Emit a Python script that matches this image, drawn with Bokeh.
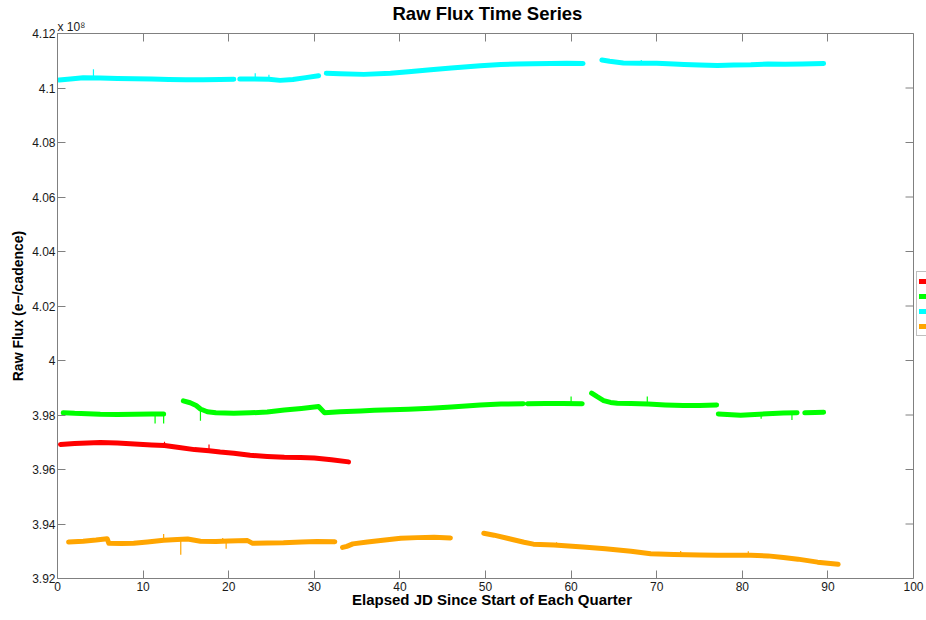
import math
from bokeh.plotting import figure
from bokeh.models import (LinearAxis, Range1d, FixedTicker, Legend, LegendItem,
                          Title, Span, CustomJSTickFormatter)
from bokeh.embed import file_html
from bokeh.resources import INLINE

# ---------------- data (flux in units of 1e8 e-/cadence) ----------------
series_names = ["Q1", "Q2", "Q3", "Q4"]
series_colors = ["#ff0000", "#00ff00", "#00ffff", "#ffa500"]

q1_x = [[0.35, 2, 3.5, 5, 7, 9, 11, 12.5, 14, 16, 17.7, 19, 20.6, 22.5, 24.5, 26.5, 28.4, 30, 32, 34]]
q1_y = [[3.9692, 3.9695, 3.9697, 3.9699, 3.9697, 3.9694, 3.9690, 3.9688, 3.9682, 3.9673,
         3.9669, 3.9664, 3.9660, 3.9652, 3.9648, 3.9645, 3.9644, 3.9642, 3.9636, 3.9628]]
q1_spike_x = [12.5, 17.7]
q1_spike_base = [3.9688, 3.9672]
q1_spike_tip = [3.9702, 3.9692]

q2_x = [[0.67, 2, 3.5, 5, 7, 9, 11, 12.4],
        [14.7, 15.5, 16.2, 16.7, 17.5, 18.5, 20.6, 22.5, 24.5, 26.5, 28.5, 30.5, 31.2, 33,
         35.4, 37, 39, 41, 43.6, 46, 49.4, 51.8, 54.4],
        [54.9, 57, 59, 61.3],
        [62.4, 63, 63.8, 64.6, 65.4, 67, 69, 71, 73.1, 75, 77],
        [77.2, 79.8, 82, 84.8, 86.4],
        [87.3, 88.5, 89.5]]
q2_y = [[3.9808, 3.9806, 3.9805, 3.9803, 3.9802, 3.9803, 3.9804, 3.9804],
        [3.9852, 3.9845, 3.9835, 3.9822, 3.9812, 3.9808, 3.9806, 3.9808, 3.9811, 3.9818,
         3.9824, 3.9831, 3.9808, 3.9812, 3.9815, 3.9817, 3.9819, 3.9821, 3.9825, 3.9829,
         3.9837, 3.9840, 3.9841],
        [3.9841, 3.9842, 3.9842, 3.9841],
        [3.9880, 3.9868, 3.9853, 3.9846, 3.9843, 3.9842, 3.9840, 3.9837, 3.9835, 3.9835, 3.9837],
        [3.9804, 3.9799, 3.9803, 3.9807, 3.9808],
        [3.9808, 3.9809, 3.9810]]
q2_spike_x = [11.4, 12.4, 16.7, 60.0, 68.9, 82.2, 85.8]
q2_spike_base = [3.9804, 3.9804, 3.9818, 3.9842, 3.9840, 3.9803, 3.9808]
q2_spike_tip = [3.9769, 3.9769, 3.9779, 3.9868, 3.9868, 3.9786, 3.9782]

q3_x = [[0.2, 1.5, 3, 5, 7, 9, 11, 13, 15, 17, 19, 20.6],
        [21.3, 23, 24.7, 26, 27.5, 29, 30.5],
        [31.4, 33, 35.8, 38.9, 41, 43.6, 46, 49.4, 51.8, 53.7, 55.5, 57.6, 59.5, 61.4],
        [63.6, 64.5, 66.1, 68, 70, 72, 73.2, 75, 77.1, 79, 81, 83, 85, 87, 89.5]]
q3_y = [[4.1029, 4.1033, 4.1038, 4.1037, 4.1035, 4.1034, 4.1033, 4.1031, 4.1030, 4.1030, 4.1031, 4.1032],
        [4.1033, 4.1033, 4.1032, 4.1028, 4.1031, 4.1038, 4.1045],
        [4.1054, 4.1052, 4.1050, 4.1054, 4.1060, 4.1067, 4.1073, 4.1082, 4.1086, 4.1088,
         4.1089, 4.1090, 4.1091, 4.1090],
        [4.1103, 4.1098, 4.1092, 4.1091, 4.1091, 4.1088, 4.1086, 4.1084, 4.1083, 4.1084,
         4.1085, 4.1088, 4.1087, 4.1088, 4.1090]]
q3_spike_x = [4.2, 23.1, 24.7, 68.2]
q3_spike_base = [4.1037, 4.1033, 4.1032, 4.1091]
q3_spike_tip = [4.1069, 4.1054, 4.1049, 4.1103]

q4_x = [[1.3, 3, 4.5, 5.8, 6.0, 7.5, 8.9, 10.5, 12.4, 14, 15.2, 16.7, 18.5, 20, 22.2, 22.8,
         24.5, 26.4, 28.5, 30.3, 32.4],
        [33.3, 33.8, 34.5, 36.2, 38, 40.1, 42, 44, 45.9],
        [49.8, 51, 52.9, 54.5, 55.6, 58, 61.4, 64, 67, 69.3, 72, 75, 77.1, 81, 83, 84.8,
         86.5, 88.8, 91.2]]
q4_y = [[3.9334, 3.9337, 3.9341, 3.9346, 3.9329, 3.9328, 3.9329, 3.9334, 3.9340, 3.9343,
         3.9345, 3.9337, 3.9336, 3.9338, 3.9339, 3.9329, 3.9330, 3.9331, 3.9334, 3.9336, 3.9335],
        [3.9314, 3.9318, 3.9327, 3.9334, 3.9340, 3.9348, 3.9350, 3.9351, 3.9349],
        [3.9366, 3.9359, 3.9345, 3.9333, 3.9326, 3.9323, 3.9316, 3.9309, 3.9300, 3.9291,
         3.9288, 3.9286, 3.9285, 3.9285, 3.9283, 3.9277, 3.9271, 3.9260, 3.9252]]
q4_spike_x = [12.4, 14.4, 19.3, 19.7, 58.3, 72.8, 80.7]
q4_spike_base = [3.9340, 3.9343, 3.9337, 3.9337, 3.9323, 3.9288, 3.9285]
q4_spike_tip = [3.9363, 3.9287, 3.9349, 3.9309, 3.9333, 3.9301, 3.9300]

x_min, x_max = 0, 100
y_min, y_max = 3.92, 4.12
x_ticks = [0, 10, 20, 30, 40, 50, 60, 70, 80, 90, 100]
x_tick_labels = ["0", "10", "20", "30", "40", "50", "60", "70", "80", "90", "100"]
y_ticks = [3.92, 3.94, 3.96, 3.98, 4.00, 4.02, 4.04, 4.06, 4.08, 4.10, 4.12]
y_tick_labels = ["3.92", "3.94", "3.96", "3.98", "4", "4.02", "4.04", "4.06", "4.08", "4.1", "4.12"]

title_text = "Raw Flux Time Series"
x_label = "Elapsed JD Since Start of Each Quarter"
y_label = "Raw Flux (e\u2212/cadence)"
multiplier_text = "x 10\u2078"

W, H = 926, 620
LEFT, TOP, BOTTOM = 57, 33, 42
BOX_RIGHT_GAP = 13
box_w = W - LEFT - BOX_RIGHT_GAP
x_view_max = x_max + BOX_RIGHT_GAP * (x_max - x_min) / box_w

FONT = "Liberation Sans"
AXIS_GRAY = "#808080"
TEXT_COL = "#1a1a1a"

p = figure(width=W, height=H, output_backend="svg", toolbar_location=None,
           x_range=Range1d(x_min, x_view_max), y_range=Range1d(y_min, y_max),
           min_border_left=LEFT, min_border_right=0, min_border_top=TOP,
           min_border_bottom=BOTTOM)
p.background_fill_color = "white"
p.border_fill_color = "white"
p.outline_line_color = None
p.xgrid.visible = False
p.ygrid.visible = False


def tick_fmt(tvals, tlabels):
    return CustomJSTickFormatter(args=dict(tvals=tvals, tlabels=tlabels), code="""
        let i = 0, best = 1e9;
        for (let k = 0; k < tvals.length; k++) {
            const d = Math.abs(tvals[k] - tick);
            if (d < best) { best = d; i = k; }
        }
        return tlabels[i];
    """)


def style_axis(ax):
    ax.axis_line_color = AXIS_GRAY
    ax.major_tick_line_color = AXIS_GRAY
    ax.major_tick_in = 8
    ax.major_tick_out = 0
    ax.minor_tick_line_color = None
    ax.major_label_text_font = FONT
    ax.major_label_text_font_size = "12px"
    ax.major_label_text_color = TEXT_COL
    ax.axis_label_text_font = FONT
    ax.axis_label_text_font_size = "15px"
    ax.axis_label_text_font_style = "bold"
    ax.axis_label_text_color = "black"


xa = p.xaxis[0]
xa.ticker = FixedTicker(ticks=x_ticks)
xa.formatter = tick_fmt(x_ticks, x_tick_labels)
xa.bounds = (x_min, x_max)
xa.axis_label = x_label
style_axis(xa)
xa.major_label_standoff = 3
xa.axis_label_standoff = -3

ya = p.yaxis[0]
ya.ticker = FixedTicker(ticks=y_ticks)
ya.formatter = tick_fmt(y_ticks, y_tick_labels)
ya.axis_label = y_label
style_axis(ya)
ya.axis_label_text_font_size = "14px"
ya.major_label_standoff = 2
ya.axis_label_standoff = 3

blank = CustomJSTickFormatter(code="return '';")
top_ax = LinearAxis(ticker=FixedTicker(ticks=x_ticks), formatter=blank, bounds=(x_min, x_max))
style_axis(top_ax)
top_ax.major_label_standoff = 0
p.add_layout(top_ax, "above")

mult = Title(text=multiplier_text, align="left", text_font=FONT, text_font_size="12px",
             text_font_style="normal", text_color=TEXT_COL, standoff=0)
p.add_layout(mult, "above")

p.title.text = title_text
p.title.align = "left"
p.title.offset = 335
p.title.text_font = FONT
p.title.text_font_size = "18.5px"
p.title.text_font_style = "bold"
p.title.text_color = "black"
p.title.standoff = -12

p.add_layout(Span(location=x_max, dimension="height", line_color=AXIS_GRAY, line_width=1))
p.ray(x=[x_max] * len(y_ticks), y=y_ticks, length=8, length_units="screen",
      angle=math.pi, line_color=AXIS_GRAY, line_width=1)


def joined(segs):
    out = []
    for i, s in enumerate(segs):
        if i:
            out.append(math.nan)
        out.extend(s)
    return out


all_x = [q1_x, q2_x, q3_x, q4_x]
all_y = [q1_y, q2_y, q3_y, q4_y]
all_sx = [q1_spike_x, q2_spike_x, q3_spike_x, q4_spike_x]
all_sb = [q1_spike_base, q2_spike_base, q3_spike_base, q4_spike_base]
all_st = [q1_spike_tip, q2_spike_tip, q3_spike_tip, q4_spike_tip]

items = []
for name, col, xs, ys, sx, sb, st in zip(series_names, series_colors, all_x, all_y, all_sx, all_sb, all_st):
    p.segment(x0=sx, y0=sb, x1=sx, y1=st, line_color=col, line_width=1.2)
    r = p.line(joined(xs), joined(ys), line_color=col, line_width=5, line_join="round",
               line_cap="round", name=name)
    items.append(LegendItem(label=" ", renderers=[r]))

legend = Legend(items=items, location=(box_w + 3, 242), orientation="vertical",
                padding=2, spacing=1, margin=0, glyph_height=14, glyph_width=22,
                label_height=14, label_standoff=4,
                label_text_font=FONT, label_text_font_size="11px",
                border_line_color=AXIS_GRAY, background_fill_color="white",
                background_fill_alpha=1.0)
p.add_layout(legend, "center")

open("out.html", "w").write(file_html(p, INLINE))
